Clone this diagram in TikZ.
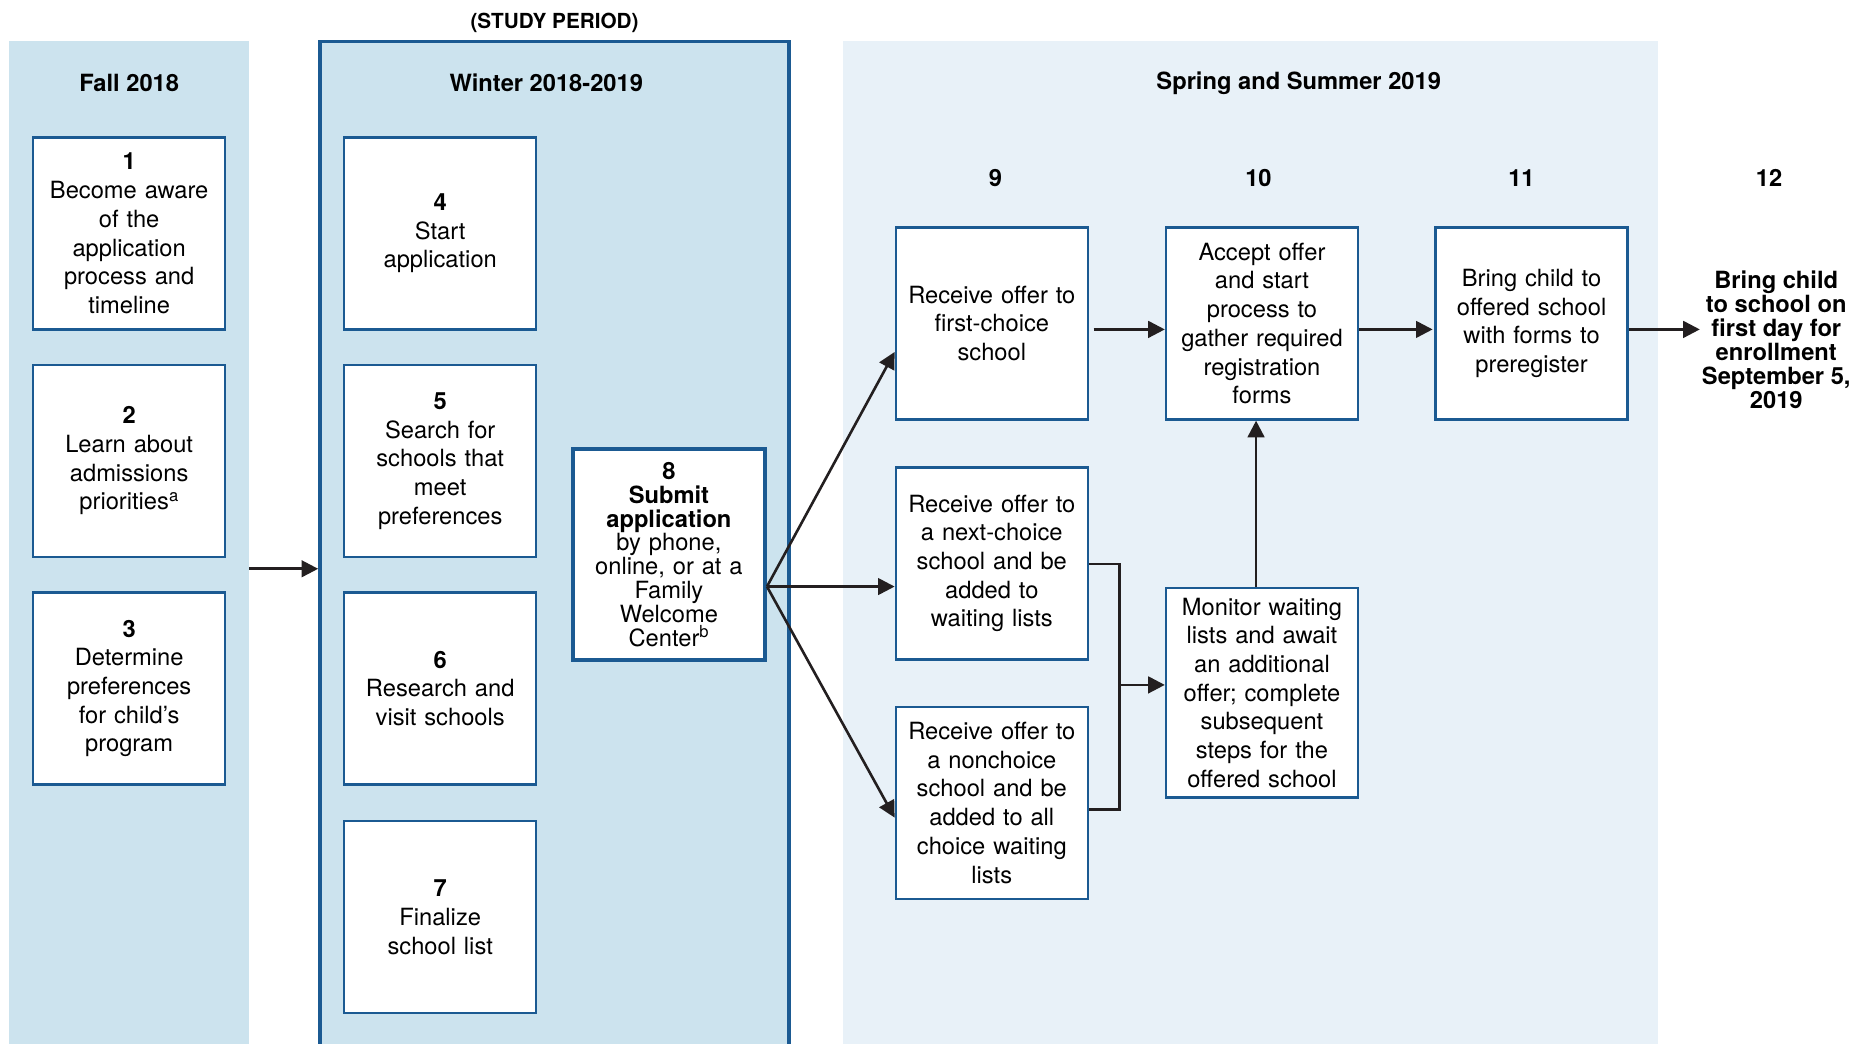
\documentclass[tikz,border=0pt]{standalone}
\usepackage{fontspec}
\setmainfont{TeX Gyre Heros}
\usetikzlibrary{arrows.meta}

\definecolor{fallblue}{HTML}{CCE3EE}
\definecolor{springblue}{HTML}{E8F1F8}
\definecolor{boxblue}{HTML}{1B5A92}
\definecolor{arrowgray}{HTML}{231F20}

\begin{document}
\begin{tikzpicture}[x=1pt,y=-1pt,
    panel/.style={fill=fallblue,inner sep=0pt},
    stepbox/.style={draw=boxblue,line width=2pt,fill=white,minimum width=162pt,minimum height=162pt,inner sep=0pt,text width=152pt,align=center,font=\fontsize{20}{24.2}\selectfont},
    title/.style={font=\bfseries\fontsize{20}{24}\selectfont,inner sep=0pt},
    arr/.style={-{Triangle[length=14pt,width=14pt]},line width=2.2pt,draw=arrowgray}]
    \useasboundingbox (0,0) rectangle (1568,881);

    % the three periods
    \node[panel,minimum width=202pt,minimum height=846pt] (fall) at (109,458) {};
    \node[panel,draw=boxblue,line width=3pt,minimum width=396pt,minimum height=870pt] (winter) at (468,470) {};
    \node[panel,fill=springblue,minimum width=688pt,minimum height=846pt] (spring) at (1055,458) {};

    \node[title,font=\bfseries\fontsize{17.5}{20}\selectfont] (study) at (468,19) {(STUDY PERIOD)};
    \node[title] (falltitle) at (109,70) {Fall 2018};
    \node[title] (wintertitle) at (461,70) {Winter 2018-2019};
    \node[title] (springtitle) at (1096,70) {Spring and Summer 2019};

    \foreach \n/\x in {9/840,10/1062,11/1284,12/1493}
        \node[title] (num\n) at (\x,150) {\n};

    % fall
    \node[stepbox] (aware) at (109,197) {\textbf{1}\\Become aware\\of the\\application\\process and\\timeline};
    \node[stepbox] (learn) at (109,389) {\textbf{2}\\Learn about\\admissions\\priorities\textsuperscript{a}};
    \node[stepbox] (prefs) at (109,581) {\textbf{3}\\Determine\\preferences\\for child's\\program};

    % winter
    \node[stepbox] (start) at (371.5,197) {\textbf{4}\\Start\\application};
    \node[stepbox] (search) at (371.5,389) {\textbf{5}\\Search for\\schools that\\meet\\preferences};
    \node[stepbox] (visit) at (371.5,581) {\textbf{6}\\Research and\\visit schools};
    \node[stepbox] (final) at (371.5,774) {\textbf{7}\\Finalize\\school list};
    \node[stepbox,line width=3.5pt,minimum height=178pt,font=\fontsize{20}{20.2}\selectfont] (submit) at (564.5,468)
        {\textbf{8}\\\textbf{Submit}\\\textbf{application}\\by phone,\\online, or at a\\Family\\Welcome\\Center\textsuperscript{b}\\[3pt]};

    % spring and summer
    \node[stepbox] (first) at (837,273) {Receive offer to\\first-choice\\school};
    \node[stepbox] (next) at (837,475.5) {Receive offer to\\a next-choice\\school and be\\added to\\waiting lists};
    \node[stepbox] (nonchoice) at (837,677.5) {Receive offer to\\a nonchoice\\school and be\\added to all\\choice waiting\\lists};
    \node[stepbox] (accept) at (1065,273) {Accept offer\\and start\\process to\\gather required\\registration\\forms};
    \node[stepbox,minimum height=177pt] (monitor) at (1065,584.5) {Monitor waiting\\lists and await\\an additional\\offer; complete\\subsequent\\steps for the\\offered school};
    \node[stepbox] (bring) at (1292.5,273) {Bring child to\\offered school\\with forms to\\preregister};
    \node[inner sep=0pt,align=center,font=\bfseries\fontsize{20}{20.2}\selectfont] (enroll) at (1499,287)
        {Bring child\\to school on\\first day for\\enrollment\\September 5,\\2019};

    % connectors
    \draw[arr] (fall.east |- 0,480) -- (winter.west |- 0,480);
    \coordinate (fork) at (submit.east |- 0,495);
    \draw[arr] (fork) -- (first.west |- 0,297);
    \draw[arr] (fork) -- (next.west |- 0,495);
    \draw[arr] (fork) -- (nonchoice.west |- 0,690);
    \draw[arr] (first.east |- 0,278) ++(4,0) -- (accept.west |- 0,278);
    \draw[arr] (accept.east |- 0,278) -- ++(62,0);
    \draw[arr] (bring.east |- 0,278) -- ++(60,0);
    \draw[line width=2.2pt,arrowgray] (next.east |- 0,476) -- (945,476) -- (945,683) -- (nonchoice.east |- 0,683);
    \draw[arr] (945,578) -- (monitor.west |- 0,578);
    \draw[arr] ([xshift=-5pt]monitor.north) -- ([xshift=-5pt]accept.south);
\end{tikzpicture}
\end{document}
